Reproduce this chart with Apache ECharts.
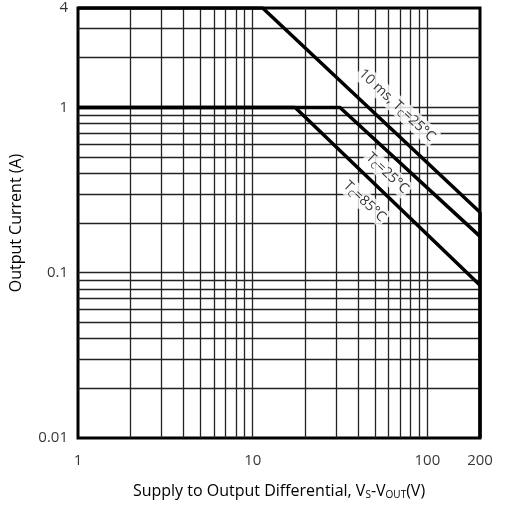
<!DOCTYPE html>
<html><head><meta charset="utf-8">
<script src="https://cdn.jsdelivr.net/npm/echarts@6/dist/echarts.min.js"></script>
<style>html,body{margin:0;background:#fff}#c{width:506px;height:507px}</style>
</head><body><div id="c"></div>
<script>
const line10ms = [[1,4],[11.4,4],[200,0.232]];
const lineTc25 = [[1,1],[31.6,1],[200,0.166]];
const lineTc85 = [[1,1],[17.5,1],[200,0.084]];
const vertical = [[200,0.232],[200,0.01]];
const xGrid = [2,3,4,5,6,7,8,9,10,20,30,40,50,60,70,80,90,100];
const yGrid = [0.02,0.03,0.04,0.05,0.06,0.07,0.08,0.09,0.1,0.2,0.3,0.4,0.5,0.6,0.7,0.8,0.9,1,2,3];
const xTickLabels = [1,10,100,200];
const yTickLabels = [0.01,0.1,1,4];
const annotations = [
  {x:67,y:1.03,text:'10 ms, T{s|C}=25°C'},
  {x:59,y:0.40,text:'T{s|C}=25°C'},
  {x:43.7,y:0.27,text:'T{s|C}=85°C'}
];
const font='"Open Sans", sans-serif';
const ch=echarts.init(document.getElementById('c'));
const lineS=(d)=>({type:'line',data:d,symbol:'none',lineStyle:{color:'#000',width:3.5},z:5,silent:true});
ch.setOption({
  animation:false,
  grid:{left:70,right:26,top:8,bottom:69,show:true,borderColor:'#000',borderWidth:3},
  xAxis:{type:'log',min:1,max:200,logBase:10,splitLine:{show:false},axisTick:{show:false},
    axisLine:{show:false},axisLabel:{show:false},
    name:'Supply to Output Differential, V{s|S}-V{s|OUT}(V)',nameLocation:'middle',nameGap:44,
    nameTextStyle:{fontFamily:font,fontSize:16,color:'#000',rich:{s:{fontSize:10,verticalAlign:'bottom',padding:[8,0,0,0],fontFamily:font}}}},
  yAxis:{type:'log',min:0.01,max:4,logBase:10,splitLine:{show:false},axisTick:{show:false},
    axisLine:{show:false},axisLabel:{show:false},
    name:'Output Current (A)',nameLocation:'middle',nameGap:54,
    nameTextStyle:{fontFamily:font,fontSize:16,color:'#000'}},
  series:[
    {type:'line',data:[],markLine:{silent:true,symbol:'none',label:{show:false},
      lineStyle:{color:'#222',width:1.3,type:'solid'},
      data:xGrid.map(v=>({xAxis:v})).concat(yGrid.map(v=>({yAxis:v})))}},
    lineS(line10ms),lineS(lineTc25),lineS(lineTc85),lineS(vertical),
    {type:'scatter',symbolSize:0,data:xTickLabels.map(v=>[v,0.01]),silent:true,
      label:{show:true,position:'bottom',distance:15,formatter:p=>String(p.value[0]),fontFamily:font,fontSize:15,color:'#000'}},
    {type:'scatter',symbolSize:0,data:yTickLabels.map(v=>[1,v]),silent:true,
      label:{show:true,position:'left',distance:10,formatter:p=>String(p.value[1]),fontFamily:font,fontSize:15,color:'#000'}},
    {type:'scatter',symbolSize:0,z:10,silent:true,data:annotations.map(a=>({value:[a.x,a.y],text:a.text})),
      label:{show:true,position:'inside',rotate:-43,formatter:p=>p.data.text,backgroundColor:'#fff',padding:[1,2],
        fontFamily:font,fontSize:14,color:'#000',rich:{s:{fontSize:9,verticalAlign:'bottom',padding:[8,0,0,0],fontFamily:font}}}}
  ]
});
</script></body></html>
